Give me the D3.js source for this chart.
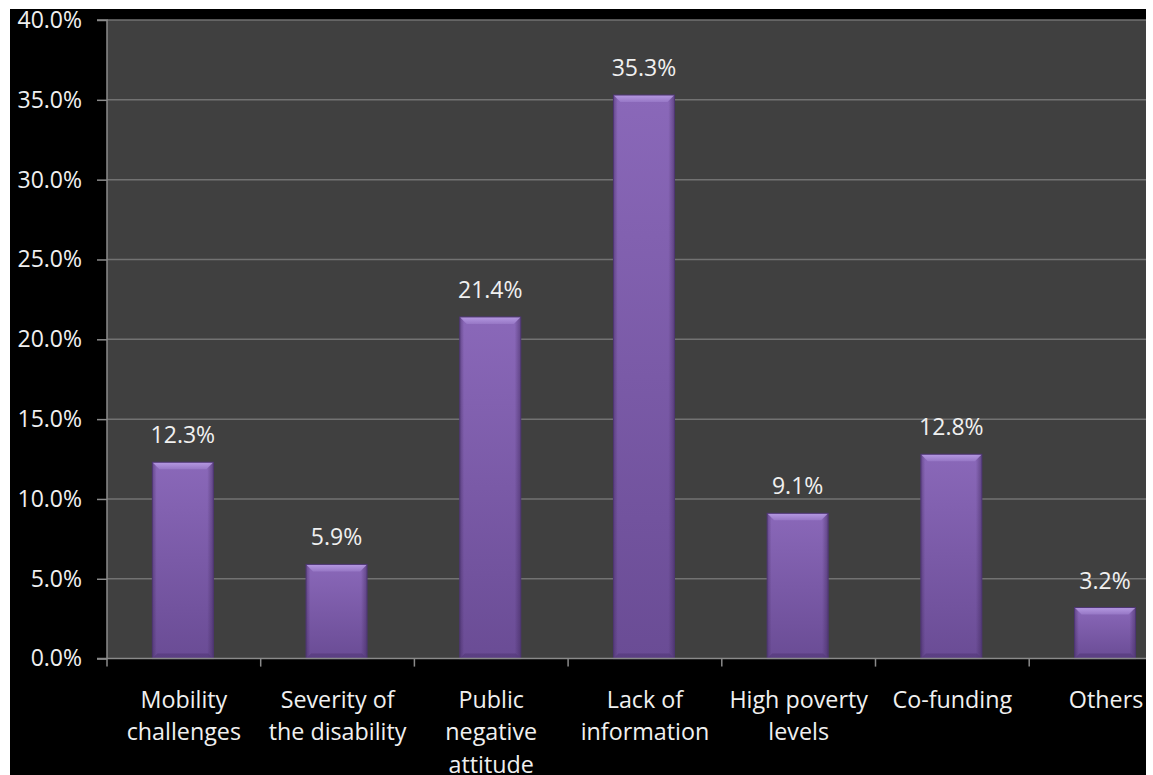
<!DOCTYPE html>
<html>
<head>
<meta charset="utf-8">
<script src="https://cdn.jsdelivr.net/npm/d3@7"></script>
<style>
  html, body { margin: 0; padding: 0; background: #ffffff; }
  svg { display: block; }
  text { font-family: "Open Sans", "Lato", sans-serif; fill: #f0f0f0; }
</style>
</head>
<body>
<svg id="chart" width="1153" height="775"></svg>
<script>
// Barriers reported, share of respondents (%)
const categories = [
  ["Mobility", "challenges"],
  ["Severity of", "the disability"],
  ["Public", "negative", "attitude"],
  ["Lack of", "information"],
  ["High poverty", "levels"],
  ["Co-funding"],
  ["Others"]
];
const values = [12.3, 5.9, 21.4, 35.3, 9.1, 12.8, 3.2];
const yTicks = [0, 5, 10, 15, 20, 25, 30, 35, 40];

const svg = d3.select("#chart");
const W = 1153, H = 775;

// Plot frame
const plotLeft = 107, plotTop = 20, plotBottom = 658.6;
const step = 153.7;
const plotRight = plotLeft + step * categories.length;

// black canvas behind the chart
svg.append("rect").attr("x", 10).attr("y", 9).attr("width", 1136).attr("height", H - 9).attr("fill", "#000");

const x = d3.scaleBand().domain(d3.range(categories.length)).range([plotLeft, plotRight]).padding(0);
const y = d3.scaleLinear().domain([0, 40]).range([plotBottom, plotTop]);

const defs = svg.append("defs");
const clip = defs.append("clipPath").attr("id", "plotClip");
clip.append("rect").attr("x", 10).attr("y", 9).attr("width", 1136).attr("height", H);

const g = svg.append("g").attr("clip-path", "url(#plotClip)");

// plot background
g.append("rect").attr("x", plotLeft).attr("y", plotTop).attr("width", plotRight - plotLeft).attr("height", plotBottom - plotTop).attr("fill", "#404040");

// gridlines
g.selectAll(".grid").data(yTicks.filter(d => d > 0)).join("line")
  .attr("x1", plotLeft).attr("x2", plotRight)
  .attr("y1", d => y(d)).attr("y2", d => y(d))
  .attr("stroke", "#727272").attr("stroke-width", 1.5);

// bar gradients
const vGrad = defs.append("linearGradient").attr("id", "barFill").attr("x1", 0).attr("y1", 0).attr("x2", 0).attr("y2", 1);
vGrad.append("stop").attr("offset", "0%").attr("stop-color", "#8a68b9");
vGrad.append("stop").attr("offset", "100%").attr("stop-color", "#6a4c95");
const hGrad = defs.append("linearGradient").attr("id", "barSide").attr("x1", 0).attr("y1", 0).attr("x2", 1).attr("y2", 0);
hGrad.append("stop").attr("offset", "0%").attr("stop-color", "#3a2455").attr("stop-opacity", 0.45);
hGrad.append("stop").attr("offset", "7%").attr("stop-color", "#3a2455").attr("stop-opacity", 0.0);
hGrad.append("stop").attr("offset", "90%").attr("stop-color", "#3a2455").attr("stop-opacity", 0.0);
hGrad.append("stop").attr("offset", "100%").attr("stop-color", "#3a2455").attr("stop-opacity", 0.5);
const topGrad = defs.append("linearGradient").attr("id", "bevelTop").attr("x1", 0).attr("y1", 0).attr("x2", 0).attr("y2", 1);
topGrad.append("stop").attr("offset", "0%").attr("stop-color", "#c0a6ec");
topGrad.append("stop").attr("offset", "100%").attr("stop-color", "#9a7bc9");

const barW = 61;
const bars = g.selectAll(".bar").data(values).join("g").attr("class", "bar");
const bx = (d, i) => x(i) + x.bandwidth() / 2 - barW / 2 - 1;

bars.append("rect")
  .attr("x", bx).attr("y", d => y(d))
  .attr("width", barW).attr("height", d => plotBottom - y(d))
  .attr("fill", "url(#barFill)");
bars.append("rect")
  .attr("x", bx).attr("y", d => y(d))
  .attr("width", barW).attr("height", d => plotBottom - y(d))
  .attr("fill", "url(#barSide)");
// top bevel
bars.append("path")
  .attr("d", (d, i) => {
    const x0 = bx(d, i), y0 = y(d), b = 7;
    return `M${x0},${y0}L${x0 + barW},${y0}L${x0 + barW - b},${y0 + b}L${x0 + b},${y0 + b}Z`;
  })
  .attr("fill", "url(#bevelTop)").attr("opacity", 0.8);
// bottom bevel
bars.append("path")
  .attr("d", (d, i) => {
    const x0 = bx(d, i), b = 5;
    return `M${x0},${plotBottom}L${x0 + barW},${plotBottom}L${x0 + barW - b},${plotBottom - b}L${x0 + b},${plotBottom - b}Z`;
  })
  .attr("fill", "#553a7c").attr("opacity", 0.7);
bars.append("rect")
  .attr("x", bx).attr("y", d => y(d))
  .attr("width", barW).attr("height", d => plotBottom - y(d))
  .attr("fill", "none").attr("stroke", "#4e3673").attr("stroke-width", 1);

// value labels
g.selectAll(".val").data(values).join("text")
  .attr("x", (d, i) => x(i) + x.bandwidth() / 2 - 1)
  .attr("y", d => y(d) - 19)
  .attr("text-anchor", "middle")
  .style("font-size", "23px")
  .text(d => d.toFixed(1) + "%");

// y axis
const yAxis = d3.axisLeft(y).tickValues(yTicks).tickFormat(d => d.toFixed(1) + "%").tickSize(10).tickPadding(15);
const ya = g.append("g").attr("transform", `translate(${plotLeft},0)`).call(yAxis);
ya.select(".domain").attr("stroke", "#8a8a8a").attr("stroke-width", 1.5).attr("d", `M-10,${plotTop}H0V${plotBottom}H-10`);
ya.selectAll(".tick line").attr("stroke", "#8a8a8a").attr("stroke-width", 1.5);
ya.selectAll(".tick text").style("font-size", "23px").style("font-family", "'Open Sans', Lato, sans-serif").attr("fill", "#f0f0f0");

// x axis
const xa = g.append("g").attr("transform", `translate(0,${plotBottom})`);
xa.append("line").attr("x1", plotLeft).attr("x2", plotRight).attr("y1", 0).attr("y2", 0).attr("stroke", "#8a8a8a").attr("stroke-width", 1.5);
xa.selectAll(".xt").data(d3.range(categories.length + 1)).join("line")
  .attr("x1", i => plotLeft + i * x.step()).attr("x2", i => plotLeft + i * x.step())
  .attr("y1", 0).attr("y2", 8).attr("stroke", "#8a8a8a").attr("stroke-width", 1.5);

const labels = xa.selectAll(".cat").data(categories).join("text")
  .attr("text-anchor", "middle")
  .attr("transform", (d, i) => `translate(${x(i) + x.bandwidth() / 2},0)`)
  .style("font-size", "23.3px");
labels.selectAll("tspan").data(d => d).join("tspan")
  .attr("x", 0).attr("y", (d, j) => 49 + j * 32.5)
  .text(d => d);
</script>
</body>
</html>
